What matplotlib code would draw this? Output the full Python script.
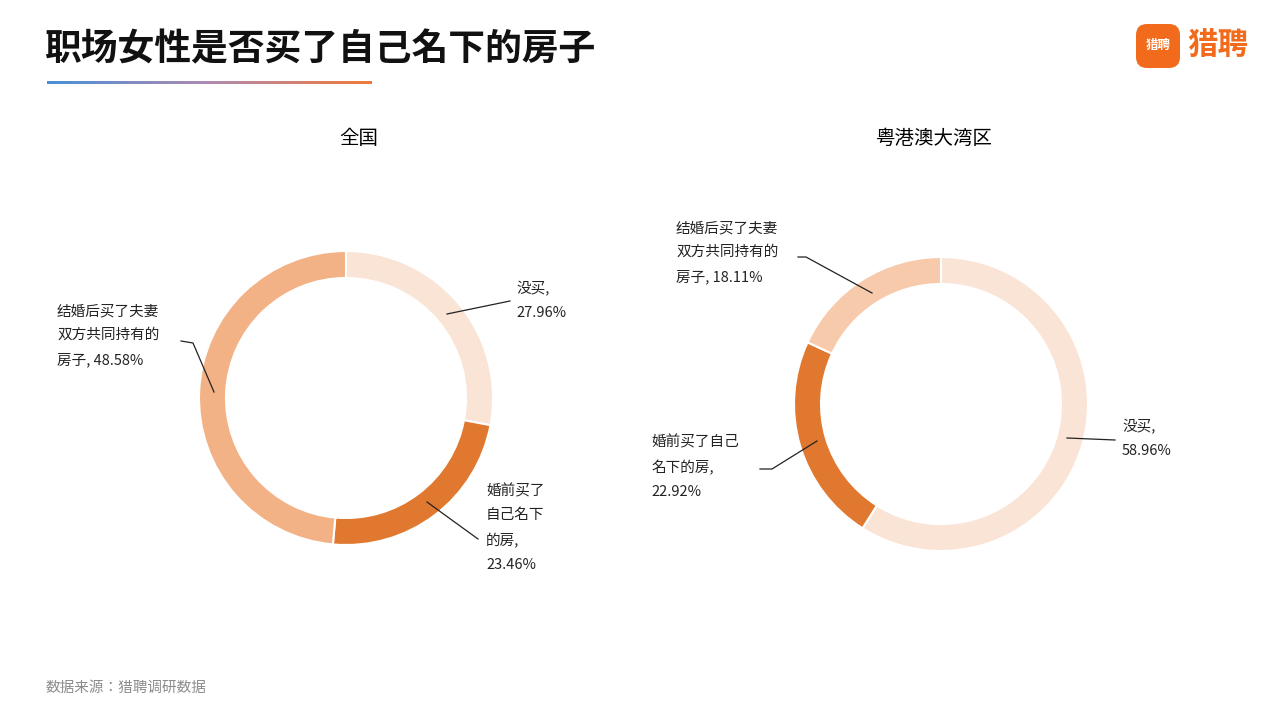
import matplotlib
matplotlib.use("Agg")
import matplotlib.pyplot as plt
import numpy as np
from matplotlib.patches import FancyBboxPatch
from matplotlib import font_manager as fm
from matplotlib.colors import LinearSegmentedColormap

cjk = [f for f in fm.findSystemFonts() if 'cjk' in f.lower() and 'serif' not in f.lower()]
reg = [f for f in cjk if 'Regular' in f] or cjk
bold = [f for f in cjk if 'Bold' in f and 'Semi' not in f] or reg
FP = fm.FontProperties(fname=reg[0]) if reg else fm.FontProperties(family='Noto Sans CJK SC')
FPB = fm.FontProperties(fname=bold[0]) if bold else FP

title = "职场女性是否买了自己名下的房子"
charts = ["全国", "粤港澳大湾区"]
categories = ["没买", "婚前买了自己名下的房", "结婚后买了夫妻双方共同持有的房子"]
values_national = [27.96, 23.46, 48.58]
values_gba = [58.96, 22.92, 18.11]
colors_national = ["#FAE4D6", "#E0782F", "#F3B286"]
colors_gba = ["#FAE4D6", "#E0782F", "#F7CAAB"]
source = "数据来源：猎聘调研数据"

fig = plt.figure(figsize=(12.8, 7.2), dpi=100)
ax = fig.add_axes([0, 0, 1, 1])
Y = lambda y: 720 - y

R, W = 147, 27
def donut(cx, cy, vals, cols):
    ax.pie(vals, colors=cols, startangle=90, counterclock=False, center=(cx, Y(cy)), radius=R,
           wedgeprops=dict(width=W, edgecolor='white', linewidth=1.5), frame=True)

donut(346, 398, values_national, colors_national)
donut(941, 404, values_gba, colors_gba)
ax.set_xlim(0, 1280); ax.set_ylim(0, 720); ax.set_aspect('equal'); ax.axis('off')

ax.text(45, Y(50), title, fontproperties=FPB, fontsize=26.5, va='center', ha='left', color='#111111')
grad = np.linspace(0, 1, 256).reshape(1, -1)
cm = LinearSegmentedColormap.from_list("g", ["#4A8FD6", "#B08AB0", "#F07A3A"])
ax.imshow(grad, cmap=cm, extent=[47, 372, Y(84), Y(81)], aspect='auto')
ax.set_xlim(0, 1280); ax.set_ylim(0, 720)

ax.add_patch(FancyBboxPatch((1136, Y(68)), 44, 44, boxstyle="round,pad=0,rounding_size=11",
                            fc="#F26B1D", ec="none"))
ax.text(1158, Y(45), "猎聘", color='white', fontproperties=FPB, fontsize=9, ha='center', va='center')
ax.text(1187, Y(45), "猎聘", color='#F26B1D', fontproperties=FPB, fontsize=22, ha='left', va='center')

ax.text(359, Y(139), charts[0], fontproperties=FP, fontsize=14, ha='center', va='center')
ax.text(934, Y(138), charts[1], fontproperties=FP, fontsize=14, ha='center', va='center')

fs = 10.5
def lab(x, y, s):
    ax.text(x, Y(y), s, fontproperties=FP, fontsize=fs, ha='left', va='top', linespacing=1.9, color='#222222')
def line(pts):
    ax.plot([p[0] for p in pts], [Y(p[1]) for p in pts], color='#222222', lw=0.9)

v = values_national
lab(516, 281, f"没买,\n{v[0]:.2f}%")
line([(447, 314), (510, 301)])
lab(486, 484, f"婚前买了\n自己名下\n的房,\n{v[1]:.2f}%")
line([(427, 502), (478, 539)])
lab(57, 304, f"结婚后买了夫妻\n双方共同持有的\n房子, {v[2]:.2f}%")
line([(214, 392), (193, 343), (181, 341)])

v = values_gba
lab(1122, 419, f"没买,\n{v[0]:.2f}%")
line([(1067, 438), (1115, 440)])
lab(651, 435, f"婚前买了自己\n名下的房,\n{v[1]:.2f}%")
line([(817, 441), (772, 469), (760, 469)])
lab(676, 221, f"结婚后买了夫妻\n双方共同持有的\n房子, {v[2]:.2f}%")
line([(872, 293), (806, 257), (798, 257)])

ax.text(46, Y(688), source, fontproperties=FP, fontsize=10.5, color='#8C8C8C', ha='left', va='center')

fig.savefig("out.png", dpi=100)
